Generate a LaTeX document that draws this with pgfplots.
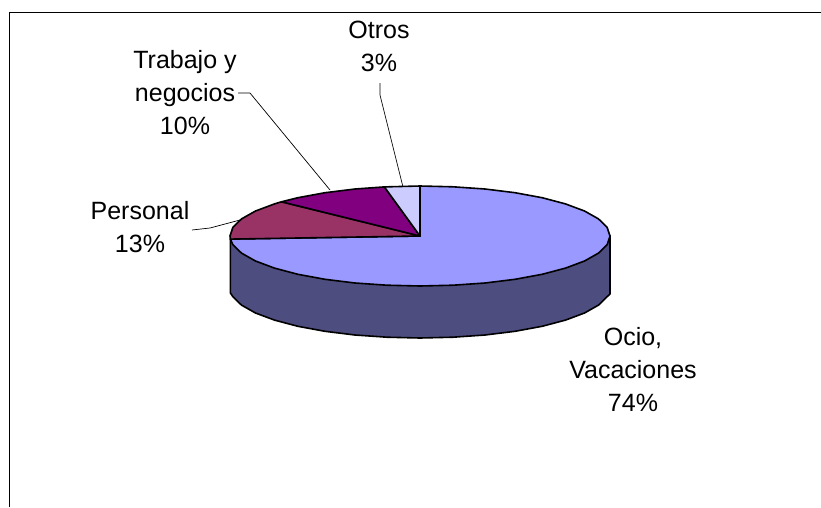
\documentclass[border=0pt]{standalone}
\usepackage{pgfplots}
\usepackage{fontspec}
\setmainfont{Liberation Sans}
\pgfplotsset{compat=1.18}
\definecolor{ocio}{HTML}{9999FF}
\definecolor{ociolado}{HTML}{4D4D80}
\definecolor{personal}{HTML}{993366}
\definecolor{trabajo}{HTML}{800080}
\definecolor{otros}{HTML}{CCCCFF}
\begin{document}
\begin{tikzpicture}
\begin{axis}[
    width=821pt,
    height=507pt,
    scale only axis,
    xmin=0, xmax=821,
    ymin=0, ymax=507,
    y dir=reverse,
    hide axis,
    clip=true,
    every axis plot/.append style={line join=round},
]
% marco
\addplot[black, line width=1.3pt, no marks] coordinates {(9.5,507)(9.5,12.5)(821,12.5)};
% lineas guia
\addplot[black, line width=0.7pt, no marks] coordinates {(238,93)(250,93)(330,190)};
\addplot[black, line width=0.7pt, no marks] coordinates {(380,83)(380,95)(403,187)};
\addplot[black, line width=0.7pt, no marks] coordinates {(192,230)(210,228)(240,220)};
% lateral
\addplot[fill=ociolado, draw=black, line width=1.6pt, no marks] coordinates {
(230.4,239.1)(230.4,293)(232.9,296.7)(241.5,305.1)(255.5,313)(274.5,320.1)(297.9,326.3)
(325,331.3)(355,335)(387,337.2)(420,338)(453,337.2)(485,335)(515,331.3)(542.1,326.3)
(565.5,320.1)(584.5,313)(598.5,305.1)(607.1,296.7)(610,294)(610,236)(230.4,239.1)} -- cycle;
% Ocio, Vacaciones 74%
\addplot[fill=ocio, draw=black, line width=1.6pt, no marks] coordinates {
(420,236)(230.4,239.1)(232.9,244.7)(241.5,253.1)(255.5,261)(274.5,268.1)(297.9,274.3)
(325,279.3)(355,283)(387,285.2)(420,286)(453,285.2)(485,283)(515,279.3)(542.1,274.3)
(565.5,268.1)(584.5,261)(598.5,253.1)(607.1,244.7)(610,236)(607.1,227.3)(598.5,218.9)
(584.5,211)(565.5,203.9)(542.1,197.7)(515,192.7)(485,189)(453,186.8)(420,186)} -- cycle;
% Personal 13%
\addplot[fill=personal, draw=black, line width=1.6pt, no marks] coordinates {
(420,236)(281.5,201.8)(274.5,203.9)(255.5,211)(241.5,218.9)(232.9,227.3)(230,236)(230.4,239.1)} -- cycle;
% Trabajo y negocios 10%
\addplot[fill=trabajo, draw=black, line width=1.6pt, no marks] coordinates {
(420,236)(384.4,186.9)(355,189)(325,192.7)(297.9,197.7)(281.5,201.8)} -- cycle;
% Otros 3%
\addplot[fill=otros, draw=black, line width=1.6pt, no marks] coordinates {
(420,236)(420,186)(384.4,186.9)} -- cycle;
% etiquetas
\tikzset{etq/.style={align=center, inner sep=0pt, font=\fontsize{25}{33}\selectfont}}
\node[etq] at (axis cs:379,46) {Otros\\3\%};
\node[etq] at (axis cs:185,93) {Trabajo y\\negocios\\10\%};
\node[etq] at (axis cs:140,227) {Personal\\13\%};
\node[etq] at (axis cs:633,370) {Ocio,\\Vacaciones\\74\%};
\end{axis}
\pgfresetboundingbox
\path[use as bounding box] (0,0) rectangle (821pt,507pt);
\end{tikzpicture}
\end{document}
